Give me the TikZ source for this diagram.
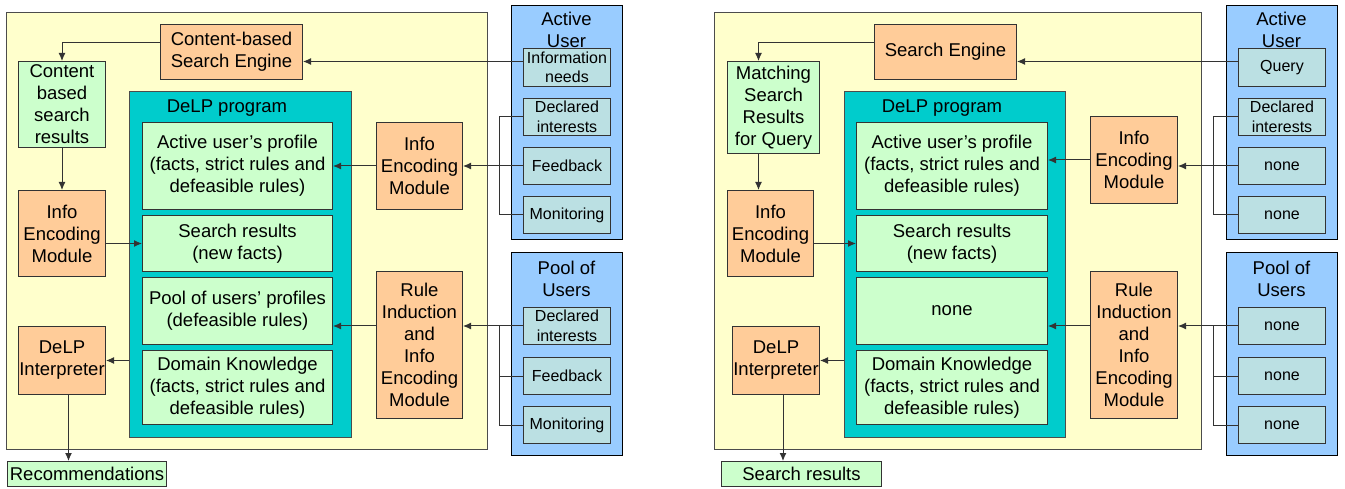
\documentclass[tikz,border=0pt]{standalone}
\usepackage{fontspec}
\setmainfont{Liberation Sans}
\usetikzlibrary{arrows.meta}

\definecolor{panelyellow}{HTML}{FFFFCC}
\definecolor{modorange}{HTML}{FFCC99}
\definecolor{factgreen}{HTML}{CCFFCC}
\definecolor{delpteal}{HTML}{00CCCC}
\definecolor{userblue}{HTML}{99CCFF}
\definecolor{inputgrey}{HTML}{BBE0E3}

\newcommand{\mainsz}{\fontsize{18.5}{22}\selectfont}
\newcommand{\subsz}{\fontsize{16}{19.5}\selectfont}

\tikzset{
  wh/.style 2 args={anchor=north west, minimum width=#1, minimum height=#2},
  panel/.style={draw=black!70, fill=panelyellow, line width=1pt, inner sep=0pt},
  delpbox/.style={draw=black!70, fill=delpteal, line width=1pt, inner sep=0pt},
  userbox/.style={draw=black, fill=userblue, line width=1pt, inner sep=0pt},
  modbox/.style={draw=black!80, fill=modorange, line width=1pt, inner sep=0pt, align=center, font=\mainsz},
  factbox/.style={draw=black!80, fill=factgreen, line width=1pt, inner sep=0pt, align=center, font=\mainsz},
  inbox/.style={draw=black!80, fill=inputgrey, line width=1pt, inner sep=0pt, align=center, font=\subsz},
  title/.style={inner sep=0pt, align=center, font=\mainsz},
  flow/.style={draw=black!80, line width=1pt, -{Latex[length=8pt,width=7pt]}},
  link/.style={draw=black!80, line width=1pt},
}

\begin{document}
\begin{tikzpicture}[x=1pt, y=-1pt]
  \useasboundingbox (0,0) rectangle (1345,489);

  % recommender
  \begin{scope}
    \node[panel, wh={481}{437}] (yellow1) at (6,12) {};
    \node[modbox, wh={142}{55}] (cse) at (160,24) {Content-based\\Search Engine};
    \node[factbox, wh={87}{86}] (cres) at (18,61) {Content\\based\\search\\results};
    \node[modbox, wh={87}{86}] (ienc1) at (18,190) {Info\\Encoding\\Module};
    \node[modbox, wh={87}{68}] (interp) at (18,326) {DeLP\\Interpreter};
    \node[factbox, wh={159}{25}] (recom) at (7,461) {Recommendations};

    \node[delpbox, wh={222}{346}] (delp1) at (129,91) {};
    \node[title] (delplabel1) at (227,108) {DeLP program};
    \node[factbox, wh={190}{87}] (prof) at (142,122) {Active user’s profile\\(facts, strict rules and\\defeasible rules)};
    \node[factbox, wh={190}{56}] (sres) at (142,215) {Search results\\(new facts)};
    \node[factbox, wh={190}{67}] (pool) at (142,277) {Pool of users’ profiles\\(defeasible rules)};
    \node[factbox, wh={190}{74}] (dom) at (142,350) {Domain Knowledge\\(facts, strict rules and\\defeasible rules)};

    \node[modbox, wh={86}{87}] (ienc2) at (376,122) {Info\\Encoding\\Module};
    \node[modbox, wh={86}{147}] (rule) at (376,271) {Rule\\Induction\\and\\Info\\Encoding\\Module};

    \node[userbox, wh={111}{234}] (blue1) at (511,5) {};
    \node[title] (active1) at (566.5,29.5) {Active\\User};
    \node[inbox, wh={87}{38}] (info) at (523,48) {Information\\needs};
    \node[inbox, wh={87}{37}] (decl) at (523,98) {Declared\\interests};
    \node[inbox, wh={87}{37}] (feed) at (523,147) {Feedback};
    \node[inbox, wh={87}{37}] (mon) at (523,196) {Monitoring};

    \node[userbox, wh={111}{203}] (blue2) at (511,252) {};
    \node[title] (poolusers1) at (566.5,279) {Pool of\\Users};
    \node[inbox, wh={87}{37}] (pdecl) at (523,307) {Declared\\interests};
    \node[inbox, wh={87}{37}] (pfeed) at (523,357) {Feedback};
    \node[inbox, wh={87}{37}] (pmon) at (523,406) {Monitoring};

    \draw[flow] ([yshift=6]info.west) -- ([yshift=6]info.west -| cse.east);
    \draw[flow] ([yshift=9]cse.west) -| (cres.north);
    \draw[flow] (cres.south) -- (ienc1.north);
    \draw[flow] (ienc1.east |- sres.west) -- (sres.west);
    \draw[flow] (delp1.west |- interp.east) -- (interp.east);
    \draw[flow] ([xshift=6.5]interp.south) -- ([xshift=6.5]interp.south |- recom.north);

    \draw[flow] (feed.west) -- (feed.west -| ienc2.east);
    \draw[flow] (ienc2.west) -- (prof.east);
    \coordinate (aj) at ([xshift=-24]decl.west);
    \draw[link] (decl.west) -- (aj) |- (mon.west);

    \draw[flow] (pdecl.west) -- (pdecl.west -| rule.east);
    \draw[flow] (rule.west |- pdecl.west) -- (pool.east |- pdecl.west);
    \coordinate (pj) at ([xshift=-24]pdecl.west);
    \draw[link] (pj) |- (pfeed.west);
    \draw[link] (pj) |- (pmon.west);
  \end{scope}

  % search engine
  \begin{scope}
    \node[panel, wh={487}{437}] (yellow2) at (714,12) {};
    \node[modbox, wh={142}{55}] (se) at (874,24) {Search Engine};
    \node[factbox, wh={92}{92}] (match) at (727,61) {Matching\\Search\\Results\\for Query};
    \node[modbox, wh={86}{86}] (ienc3) at (727,190) {Info\\Encoding\\Module};
    \node[modbox, wh={87}{68}] (interp2) at (732,326) {DeLP\\Interpreter};
    \node[factbox, wh={160}{25}] (sout) at (721,461) {Search results};

    \node[delpbox, wh={221}{346}] (delp2) at (844,91) {};
    \node[title] (delplabel2) at (942,108) {DeLP program};
    \node[factbox, wh={191}{87}] (prof2) at (856,122) {Active user’s profile\\(facts, strict rules and\\defeasible rules)};
    \node[factbox, wh={191}{56}] (sres2) at (856,215) {Search results\\(new facts)};
    \node[factbox, wh={191}{67}] (pool2) at (856,277) {none};
    \node[factbox, wh={191}{74}] (dom2) at (856,350) {Domain Knowledge\\(facts, strict rules and\\defeasible rules)};

    \node[modbox, wh={87}{87}] (ienc4) at (1090,116) {Info\\Encoding\\Module};
    \node[modbox, wh={87}{147}] (rule2) at (1090,271) {Rule\\Induction\\and\\Info\\Encoding\\Module};

    \node[userbox, wh={111}{234}] (blue3) at (1226,5) {};
    \node[title] (active2) at (1281.5,29.5) {Active\\User};
    \node[inbox, wh={87}{38}] (query) at (1238,48) {Query};
    \node[inbox, wh={87}{37}] (decl2) at (1238,98) {Declared\\interests};
    \node[inbox, wh={87}{37}] (nonea) at (1238,147) {none};
    \node[inbox, wh={87}{37}] (noneb) at (1238,196) {none};

    \node[userbox, wh={111}{203}] (blue4) at (1226,252) {};
    \node[title] (poolusers2) at (1281.5,279) {Pool of\\Users};
    \node[inbox, wh={87}{37}] (pnonea) at (1238,307) {none};
    \node[inbox, wh={87}{37}] (pnoneb) at (1238,357) {none};
    \node[inbox, wh={87}{37}] (pnonec) at (1238,406) {none};

    \draw[flow] ([yshift=6]query.west) -- ([yshift=6]query.west -| se.east);
    \coordinate (mx) at ([xshift=-15]match.north);
    \draw[flow] ([yshift=9]se.west) -| (mx);
    \draw[flow] (mx |- match.south) -- (mx |- ienc3.north);
    \draw[flow] (ienc3.east |- sres2.west) -- (sres2.west);
    \draw[flow] (delp2.west |- interp2.east) -- (interp2.east);
    \draw[flow] ([xshift=7]interp2.south) -- ([xshift=7]interp2.south |- sout.north);

    \draw[flow] (nonea.west) -- (nonea.west -| ienc4.east);
    \draw[flow] (ienc4.west) -- (ienc4.west -| prof2.east);
    \coordinate (bj) at ([xshift=-25]decl2.west);
    \draw[link] (decl2.west) -- (bj) |- (noneb.west);

    \draw[flow] (pnonea.west) -- (pnonea.west -| rule2.east);
    \draw[flow] (rule2.west |- pnonea.west) -- (pool2.east |- pnonea.west);
    \coordinate (qj) at ([xshift=-25]pnonea.west);
    \draw[link] (qj) |- (pnoneb.west);
    \draw[link] (qj) |- (pnonec.west);
  \end{scope}
\end{tikzpicture}
\end{document}
